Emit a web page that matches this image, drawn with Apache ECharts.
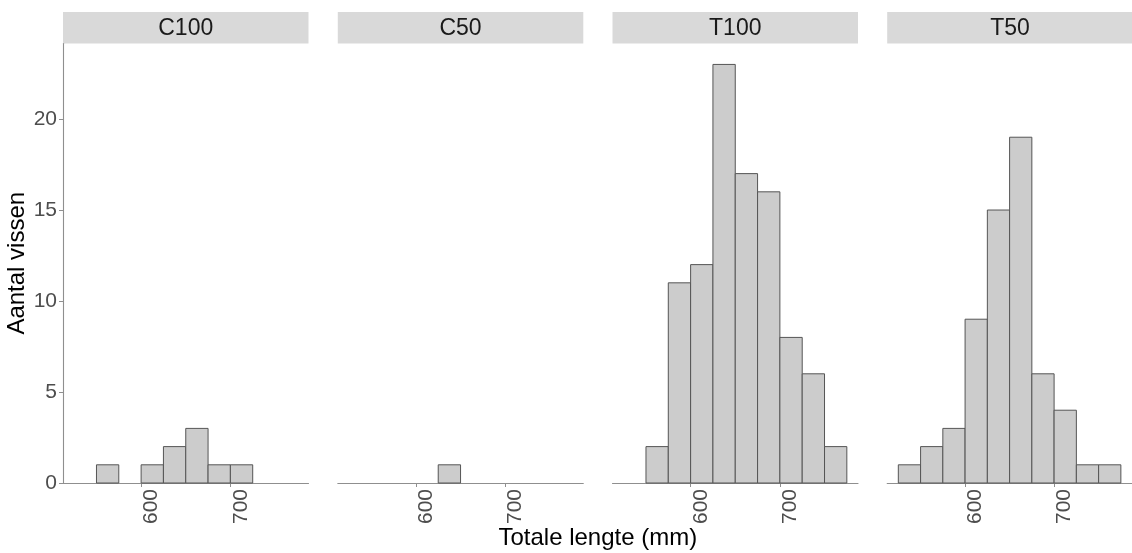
<!DOCTYPE html>
<html>
<head>
<meta charset="utf-8">
<script src="https://cdn.jsdelivr.net/npm/echarts@6/dist/echarts.min.js"></script>
<style>
  html, body { margin: 0; padding: 0; background: #fff; }
  #main { width: 1132px; height: 553px; }
</style>
</head>
<body>
<div id="main"></div>
<script>
// bins of 25 mm, left edges
const binWidth = 25;
const binStarts = [525, 550, 575, 600, 625, 650, 675, 700, 725, 750];

const panels = ['C100', 'C50', 'T100', 'T50'];
const countsC100 = [0, 1, 0, 1, 2, 3, 1, 1, 0, 0];
const countsC50 = [0, 0, 0, 0, 1, 0, 0, 0, 0, 0];
const countsT100 = [0, 2, 11, 12, 23, 17, 16, 8, 6, 2];
const countsT50 = [1, 2, 3, 9, 15, 19, 6, 4, 1, 1];
const allCounts = [countsC100, countsC50, countsT100, countsT50];

const xTicks = [600, 700];
const yTicks = [0, 5, 10, 15, 20];

// layout
const font = '"Liberation Sans", Arial, sans-serif';
const panelLefts = [63, 337.8, 612.5, 887.2];
const panelWidth = 245.5;
const panelTop = 43.5;
const panelHeight = 439.5;
const stripTop = 12;

const xMin = 512.5, xMax = 787.5;
const yMax = 24.15;

var myChart = echarts.init(document.getElementById('main'));

const grids = [], xAxes = [], yAxes = [], series = [], graphics = [];

panels.forEach((name, i) => {
  grids.push({ left: panelLefts[i], top: panelTop, width: panelWidth, height: panelHeight, containLabel: false });

  xAxes.push({
    type: 'value', gridIndex: i, min: xMin, max: xMax,
    splitLine: { show: false },
    axisLine: { show: true, lineStyle: { color: '#8f8f8f', width: 1.1 } },
    axisTick: { show: true, length: 4, customValues: xTicks, lineStyle: { color: '#8f8f8f' } },
    axisLabel: {
      customValues: xTicks, rotate: 90, align: 'right', verticalAlign: 'top',
      margin: 6, fontSize: 21, color: '#4D4D4D', fontFamily: font
    }
  });

  yAxes.push({
    type: 'value', gridIndex: i, min: 0, max: yMax,
    splitLine: { show: false },
    axisLine: { show: i === 0, lineStyle: { color: '#8f8f8f', width: 1.1 } },
    axisTick: { show: i === 0, length: 4, customValues: yTicks, lineStyle: { color: '#8f8f8f' } },
    axisLabel: {
      show: i === 0, customValues: yTicks, margin: 6,
      fontSize: 21, color: '#4D4D4D', fontFamily: font
    },
    name: i === 0 ? 'Aantal vissen' : '',
    nameLocation: 'middle', nameGap: 32,
    nameTextStyle: { fontSize: 24, color: '#000', fontFamily: font }
  });

  series.push({
    type: 'custom',
    xAxisIndex: i, yAxisIndex: i,
    data: binStarts.map((s, k) => [s, allCounts[i][k]]),
    renderItem: function (params, api) {
      const start = api.value(0);
      const count = api.value(1);
      if (!count) return;
      const p0 = api.coord([start, count]);
      const p1 = api.coord([start + binWidth, 0]);
      return {
        type: 'rect',
        shape: { x: p0[0], y: p0[1], width: p1[0] - p0[0], height: p1[1] - p0[1] },
        style: { fill: '#CCCCCC', stroke: '#555555', lineWidth: 1 }
      };
    }
  });

  // facet strip
  graphics.push({
    type: 'rect',
    shape: { x: panelLefts[i], y: stripTop, width: panelWidth, height: panelTop - stripTop },
    style: { fill: '#D9D9D9' }
  });
  graphics.push({
    type: 'text',
    x: panelLefts[i] + panelWidth / 2, y: (stripTop + panelTop) / 2 + 1,
    style: {
      text: name, fill: '#1A1A1A', font: '23px ' + font,
      align: 'center', verticalAlign: 'middle'
    }
  });
});

// shared x title
graphics.push({
  type: 'text',
  x: (panelLefts[0] + panelLefts[3] + panelWidth) / 2, y: 538,
  style: {
    text: 'Totale lengte (mm)', fill: '#000', font: '24px ' + font,
    align: 'center', verticalAlign: 'middle'
  }
});

var option = {
  animation: false,
  backgroundColor: '#fff',
  grid: grids,
  xAxis: xAxes,
  yAxis: yAxes,
  series: series,
  graphic: graphics
};

myChart.setOption(option);
</script>
</body>
</html>
